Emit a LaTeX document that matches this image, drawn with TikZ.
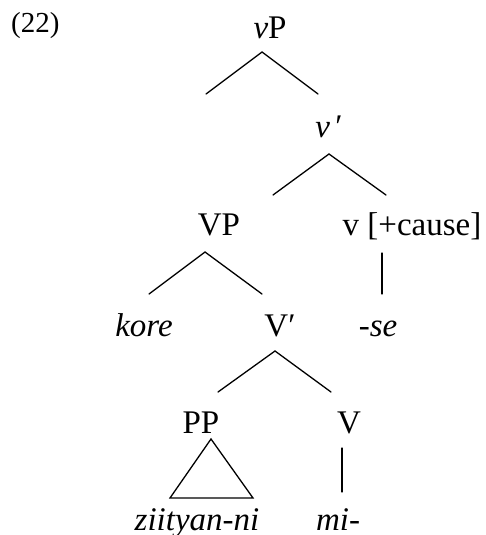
\documentclass[tikz,border=0pt]{standalone}
\usepackage{fontspec}
\setmainfont{Liberation Serif}
\begin{document}
\begin{tikzpicture}[x=1pt,y=-1pt,
  lbl/.style={inner sep=0pt,anchor=base,font=\fontsize{33}{40}\selectfont},
  edge/.style={line width=1.3pt,line cap=round,line join=miter}]
\useasboundingbox (0,0) rectangle (485,535);
\node[inner sep=0pt,anchor=base west,font=\fontsize{29}{35}\selectfont] (ex) at (11,33) {(22)};
\node[lbl] (vP) at (270,39) {\textit{v}P};
\node[lbl] (vbar) at (329,137) {\textit{v}\,′};
\node[lbl] (VP) at (219,235) {VP};
\node[lbl] (v) at (412,235) {v [+cause]};
\node[lbl] (kore) at (144,336) {\textit{kore}};
\node[lbl] (Vbar) at (280,336) {V′};
\node[lbl] (se) at (378,336) {\textit{-se}};
\node[lbl] (PP) at (201,433) {PP};
\node[lbl] (V) at (349,433) {V};
\node[lbl] (zi) at (197,530) {\textit{ziityan-ni}};
\node[lbl] (mi) at (338,530) {\textit{mi-}};
% branch points
\coordinate (a1) at (262,52);  \coordinate (l1) at (206,94);  \coordinate (r1) at (318,94);
\coordinate (a2) at (329,154); \coordinate (l2) at (273,195); \coordinate (r2) at (386,195);
\coordinate (a3) at (205,252); \coordinate (l3) at (149,294); \coordinate (r3) at (262,294);
\coordinate (a4) at (275,351); \coordinate (l4) at (218,392); \coordinate (r4) at (331,392);
\coordinate (t1) at (382,253); \coordinate (t2) at (382,294);
\coordinate (u1) at (342,448); \coordinate (u2) at (342,492);
\coordinate (pa) at (211,439); \coordinate (pl) at (170,498); \coordinate (pr) at (253,498);
\draw[edge] (l1) -- (a1) -- (r1);
\draw[edge] (l2) -- (a2) -- (r2);
\draw[edge] (l3) -- (a3) -- (r3);
\draw[edge] (l4) -- (a4) -- (r4);
\draw[edge] (t1) -- (t2);
\draw[edge] (u1) -- (u2);
\draw[edge] (pa) -- (pl) -- (pr) -- cycle;
\end{tikzpicture}
\end{document}
